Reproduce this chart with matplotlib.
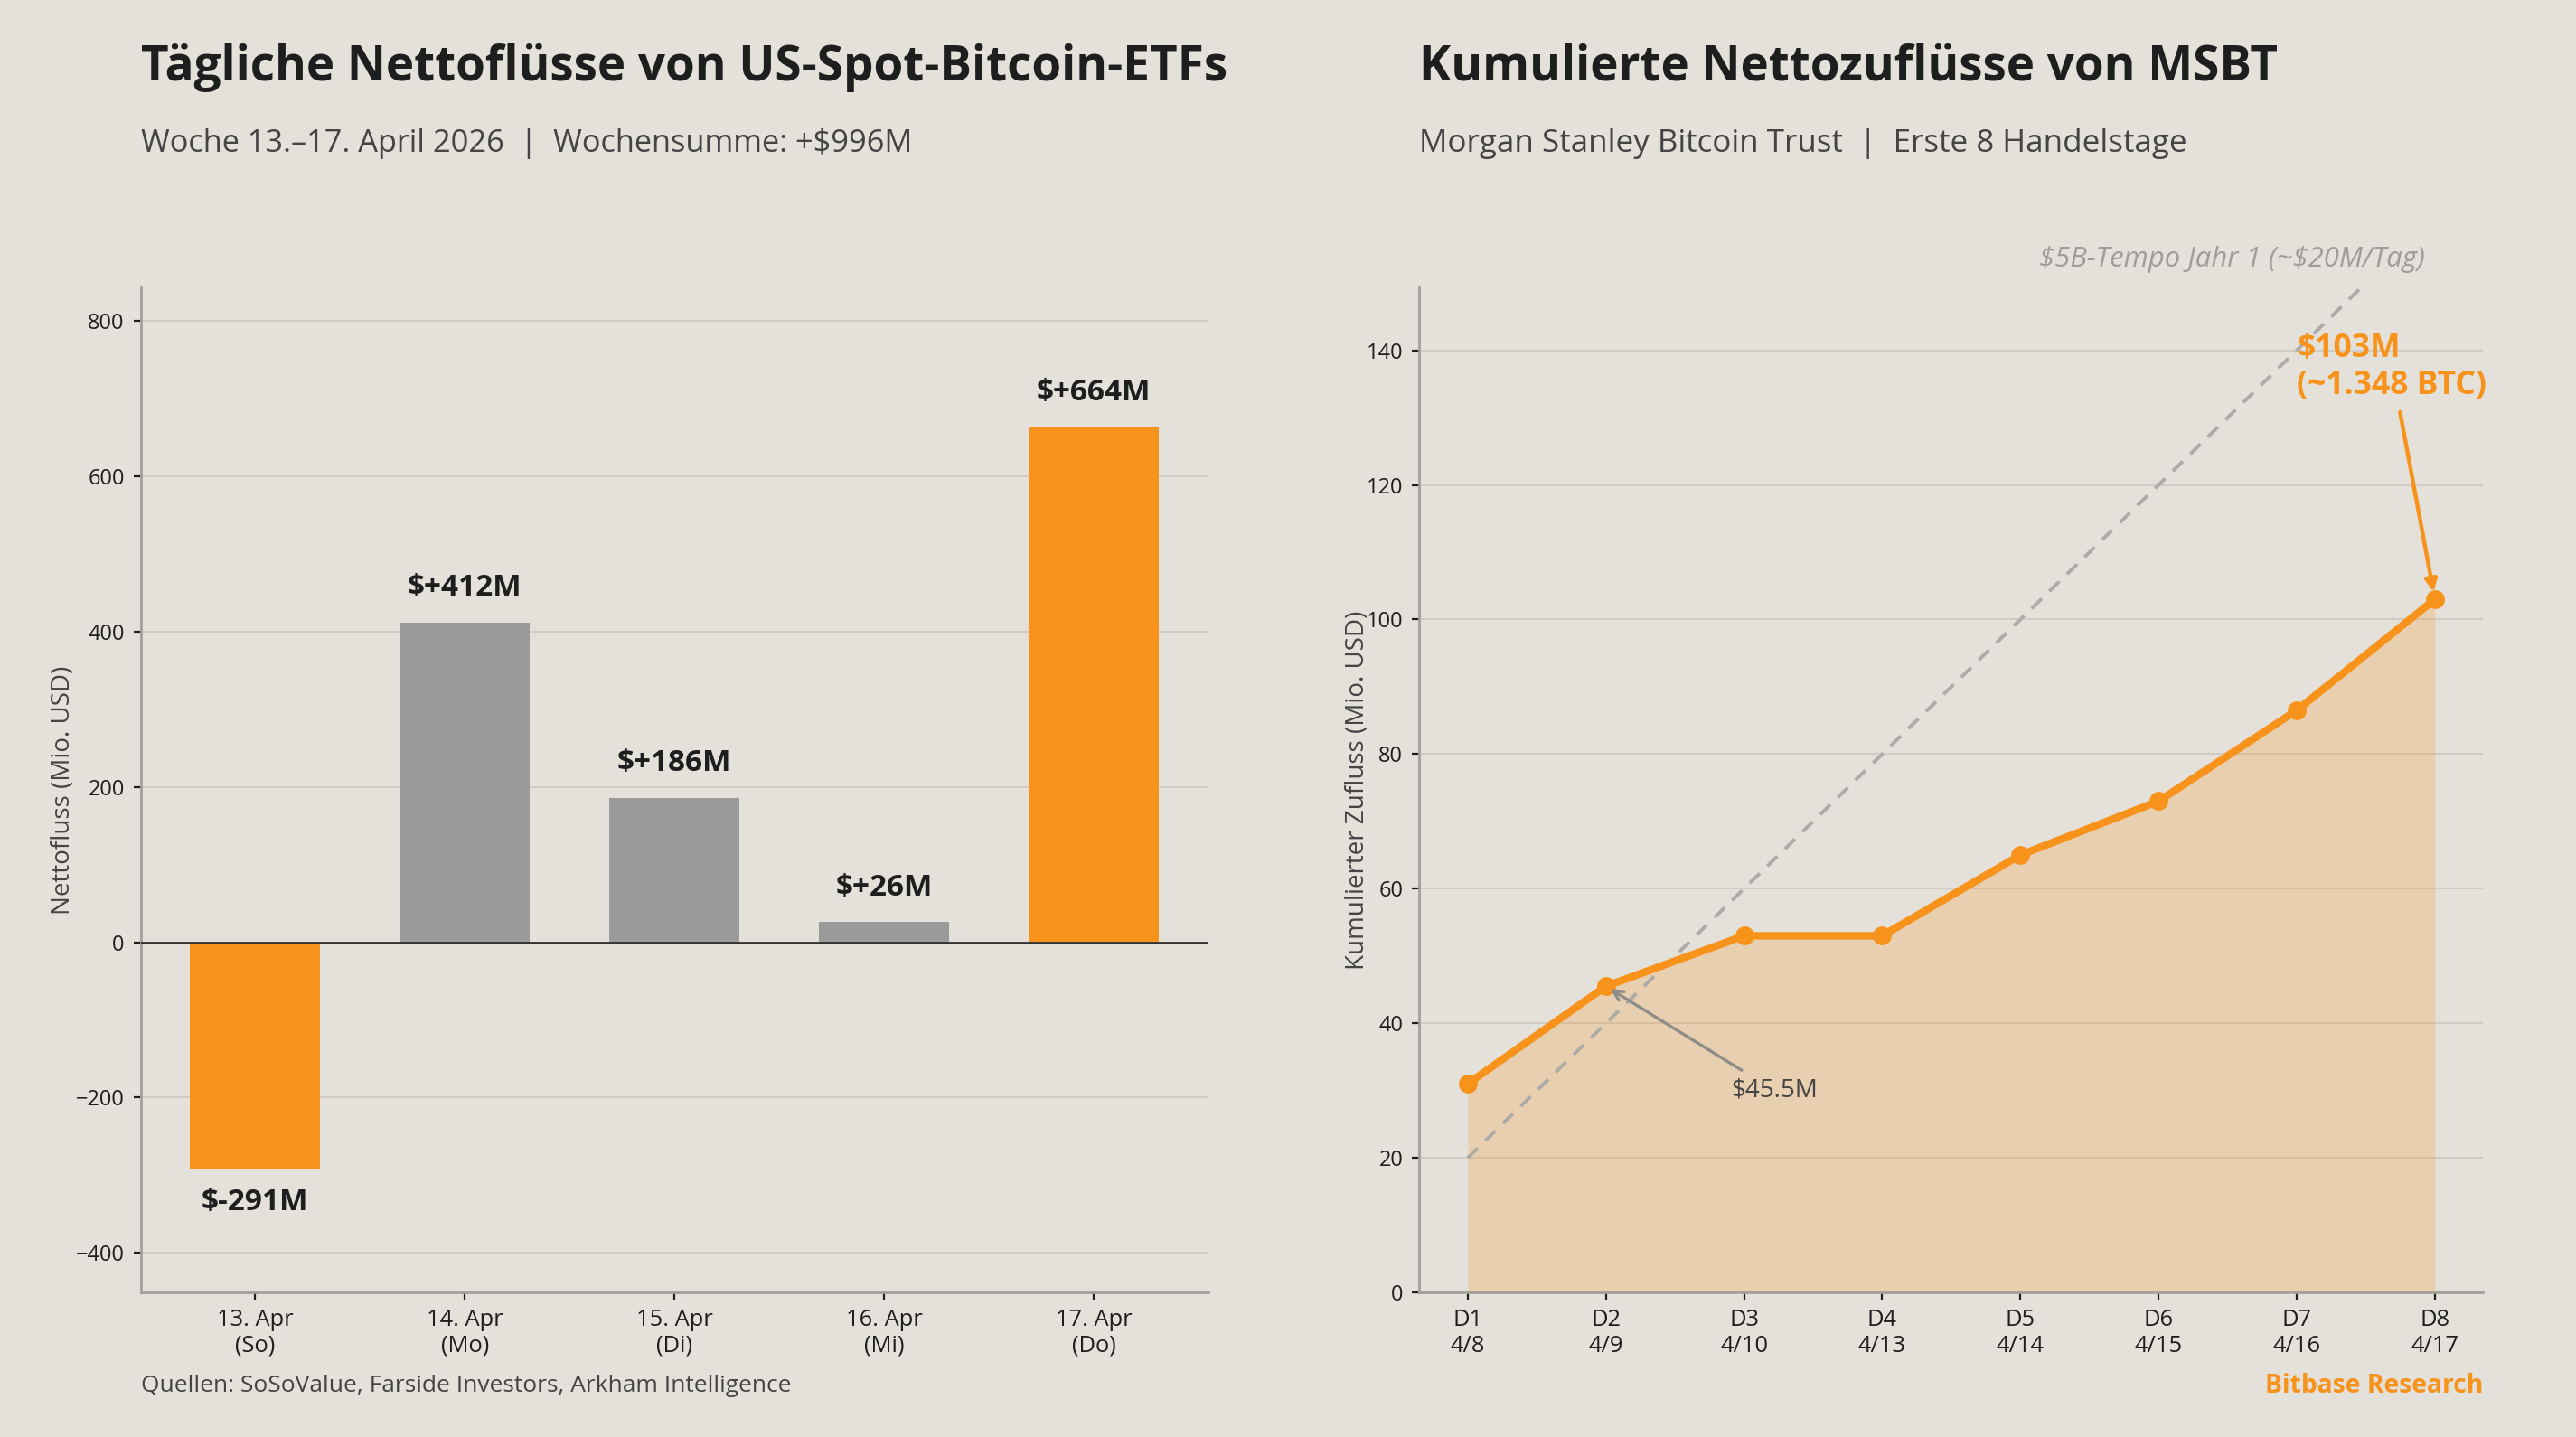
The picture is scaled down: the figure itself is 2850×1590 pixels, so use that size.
import matplotlib
matplotlib.use("Agg")
import matplotlib.pyplot as plt
import numpy as np

# ---------------- data ----------------
days = ["13. Apr\n(So)", "14. Apr\n(Mo)", "15. Apr\n(Di)", "16. Apr\n(Mi)", "17. Apr\n(Do)"]
flows = [-291, 412, 186, 26, 664]
highlight = [True, False, False, False, True]

cum_labels = ["D1\n4/8", "D2\n4/9", "D3\n4/10", "D4\n4/13", "D5\n4/14", "D6\n4/15", "D7\n4/16", "D8\n4/17"]
cum_values = [31, 45.5, 53, 53, 65, 73, 86.5, 103]
pace_start = 20
pace_per_day = 20

left_yticks = [-400, -200, 0, 200, 400, 600, 800]
right_yticks = [0, 20, 40, 60, 80, 100, 120, 140]

# ---------------- style ----------------
BG = "#E4E0DA"
ORANGE = "#F7931A"
GRAY = "#9A9A9A"
DARK = "#1E1E1E"
TXT = "#444444"
GRID = "#D0CBC4"
FONT = ["Open Sans", "DejaVu Sans"]
plt.rcParams["font.family"] = FONT

fig = plt.figure(figsize=(14.25, 7.95), dpi=200, facecolor=BG)

ax1 = fig.add_axes([0.0547, 0.1006, 0.4143, 0.6994], facecolor=BG)
ax2 = fig.add_axes([0.551, 0.1006, 0.413, 0.6994], facecolor=BG)

for ax in (ax1, ax2):
    for s in ("top", "right"):
        ax.spines[s].set_visible(False)
    for s in ("left", "bottom"):
        ax.spines[s].set_color("#A3A09B")
        ax.spines[s].set_linewidth(1.0)
    ax.set_axisbelow(True)
    ax.yaxis.grid(True, color=GRID, linewidth=0.7)
    ax.tick_params(axis="y", labelsize=8.5, colors=DARK, length=3, width=0.8)
    ax.tick_params(axis="x", labelsize=9.2, colors=DARK, length=3, width=0.8)

# ---------------- left: bars ----------------
x = np.arange(len(days))
colors = [ORANGE if h else GRAY for h in highlight]
ax1.bar(x, flows, width=0.62, color=colors, zorder=2)
ax1.axhline(0, color="#333333", linewidth=1.0, zorder=3)
for xi, v in zip(x, flows):
    if v >= 0:
        ax1.text(xi, v + 25, f"$+{v}M", ha="center", va="bottom", fontsize=12,
                 fontweight="bold", color=DARK)
    else:
        ax1.text(xi, v - 25, f"$-{abs(v)}M", ha="center", va="top", fontsize=12,
                 fontweight="bold", color=DARK)
ax1.set_xticks(x)
ax1.set_xticklabels(days)
ax1.set_yticks(left_yticks)
ax1.set_ylim(min(flows) * 1.55, max(flows) * 1.27)
ax1.set_xlim(-0.545, 4.545)
ax1.set_ylabel("Nettofluss (Mio. USD)", fontsize=10, color=TXT, labelpad=0)

# ---------------- right: cumulative ----------------
xc = np.arange(len(cum_values))
pace = [pace_start + pace_per_day * i for i in xc]
ax2.fill_between(xc, 0, cum_values, color=ORANGE, alpha=0.22, linewidth=0, zorder=1)
ax2.plot(xc, pace, linestyle=(0, (4, 3)), color="#AEABA6", linewidth=1.4, zorder=2)
ax2.plot(xc, cum_values, color=ORANGE, linewidth=3, marker="o", markersize=6.5, zorder=3)
ax2.set_xticks(xc)
ax2.set_xticklabels(cum_labels)
ax2.set_yticks(right_yticks)
ax2.set_ylim(0, max(cum_values) * 1.45)
ax2.set_xlim(-0.35, len(cum_values) - 1 + 0.35)
ax2.set_ylabel("Kumulierter Zufluss (Mio. USD)", fontsize=10, color=TXT, labelpad=-1.5)

ax2.text(6.93, 153.5, r"\$5B-Tempo Jahr 1 (~\$20M/Tag)", ha="right", va="center",
         fontsize=11.2, style="italic", color="#A09D98", clip_on=False)

ax2.annotate("$45.5M", xy=(1, cum_values[1]), xytext=(2.22, 30),
             ha="center", va="center", fontsize=10, color=TXT,
             arrowprops=dict(arrowstyle="->", color="#8E8C88", lw=1.2))
ax2.annotate(f"${cum_values[-1]:.0f}M\n(~1.348 BTC)", xy=(7, cum_values[-1]),
             xytext=(6.0, 137.5), ha="left", va="center", fontsize=12.8,
             fontweight="bold", color=ORANGE, linespacing=1.2,
             arrowprops=dict(arrowstyle="-|>", color=ORANGE, lw=1.6,
                             shrinkA=2, shrinkB=3, mutation_scale=10))

# ---------------- titles & footer ----------------
fig.text(0.0547, 0.953, "Tägliche Nettoflüsse von US-Spot-Bitcoin-ETFs", fontsize=19.1,
         fontweight="bold", color=DARK, ha="left", va="center")
fig.text(0.0547, 0.900, "Woche 13.–17. April 2026  |  Wochensumme: +$996M", fontsize=12.4,
         color=TXT, ha="left", va="center")
fig.text(0.551, 0.953, "Kumulierte Nettozuflüsse von MSBT", fontsize=19.1,
         fontweight="bold", color=DARK, ha="left", va="center")
fig.text(0.551, 0.900, "Morgan Stanley Bitcoin Trust  |  Erste 8 Handelstage", fontsize=12.6,
         color=TXT, ha="left", va="center")
fig.text(0.0547, 0.0355, "Quellen: SoSoValue, Farside Investors, Arkham Intelligence",
         fontsize=9.5, color=TXT, ha="left", va="center")
fig.text(0.964, 0.0355, "Bitbase Research", fontsize=10.2, fontweight="bold",
         color=ORANGE, ha="right", va="center")

fig.savefig("out.png", dpi=200, facecolor=BG)
